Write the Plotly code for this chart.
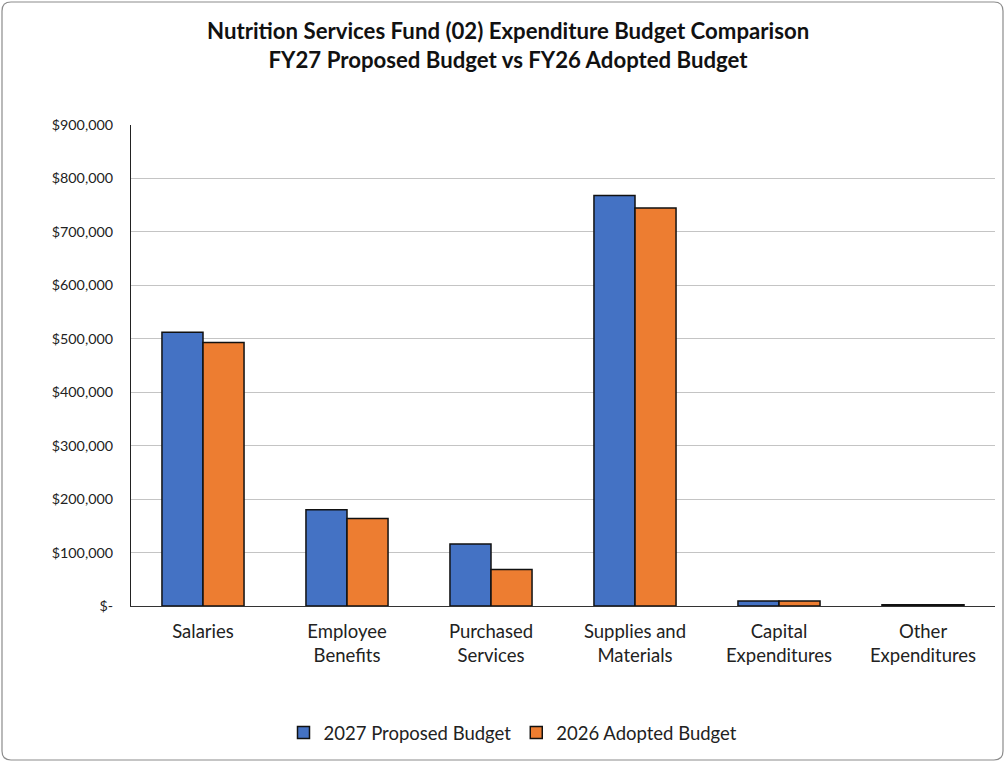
import plotly.graph_objects as go

# Expenditure categories and budget figures
categories = ["Salaries", "Employee<br>Benefits", "Purchased<br>Services",
              "Supplies and<br>Materials", "Capital<br>Expenditures", "Other<br>Expenditures"]
proposed_2027 = [512000, 180000, 116000, 768000, 9500, 2500]
adopted_2026 = [493000, 163500, 68500, 744500, 9500, 2500]

tick_values = [0, 100000, 200000, 300000, 400000, 500000, 600000, 700000, 800000, 900000]
tick_labels = ["$-", "$100,000", "$200,000", "$300,000", "$400,000", "$500,000",
               "$600,000", "$700,000", "$800,000", "$900,000"]

W, H = 1005, 762
L, R, T, B = 131, 10, 125, 156
FONT = "Lato, 'Open Sans', sans-serif"

fig = go.Figure()
fig.add_trace(go.Bar(name="2027 Proposed Budget", x=categories, y=proposed_2027,
                     marker=dict(color="#4472C4", line=dict(color="#111111", width=1.5))))
fig.add_trace(go.Bar(name="2026 Adopted Budget", x=categories, y=adopted_2026,
                     marker=dict(color="#ED7D31", line=dict(color="#111111", width=1.5))))

# pixel -> paper coordinate helpers
pw, ph = W - L - R, H - T - B
def px(x):
    return (x - L) / pw
def py(y):
    return (H - B - y) / ph

# rounded outer frame
x0, y0, x1, y1, r = 2, 2, 1003, 760, 9
path = (f"M {px(x0 + r)},{py(y0)} L {px(x1 - r)},{py(y0)} "
        f"Q {px(x1)},{py(y0)} {px(x1)},{py(y0 + r)} L {px(x1)},{py(y1 - r)} "
        f"Q {px(x1)},{py(y1)} {px(x1 - r)},{py(y1)} L {px(x0 + r)},{py(y1)} "
        f"Q {px(x0)},{py(y1)} {px(x0)},{py(y1 - r)} L {px(x0)},{py(y0 + r)} "
        f"Q {px(x0)},{py(y0)} {px(x0 + r)},{py(y0)} Z")
fig.add_shape(type="path", path=path, xref="paper", yref="paper",
              line=dict(color="#8c8c8c", width=1.2), layer="below")

# two-line chart title
fig.add_annotation(text="<b>Nutrition Services Fund (02) Expenditure Budget Comparison<br>"
                        "FY27 Proposed Budget vs FY26 Adopted Budget</b>",
                   xref="paper", yref="paper", x=px(508), y=py(45),
                   xanchor="center", yanchor="middle", showarrow=False,
                   font=dict(family=FONT, size=22.2, color="#111111"))

fig.update_layout(
    width=W, height=H,
    margin=dict(l=L, r=R, t=T, b=B),
    paper_bgcolor="white", plot_bgcolor="white",
    barmode="group", bargap=0.43, bargroupgap=0,
    font=dict(family=FONT, color="#222222"),
    legend=dict(orientation="h", x=px(513), xanchor="center", y=py(733), yanchor="middle",
                font=dict(size=18.5, family=FONT, color="#222222"),
                itemwidth=30, traceorder="normal"),
    xaxis=dict(showgrid=False, showline=True, linecolor="#333333", linewidth=1.2,
               tickfont=dict(size=18.5, family=FONT, color="#222222"),
               ticks="", ticklabelstandoff=9),
    yaxis=dict(range=[0, 900000], tickvals=tick_values, ticktext=tick_labels,
               showgrid=True, gridcolor="#c4c4c4", gridwidth=1.4,
               showline=True, linecolor="#222222", linewidth=1.2,
               ticks="", ticklabelstandoff=14,
               tickfont=dict(size=14.3, family=FONT, color="#222222"),
               zeroline=False),
)

fig.write_html("out.html")
